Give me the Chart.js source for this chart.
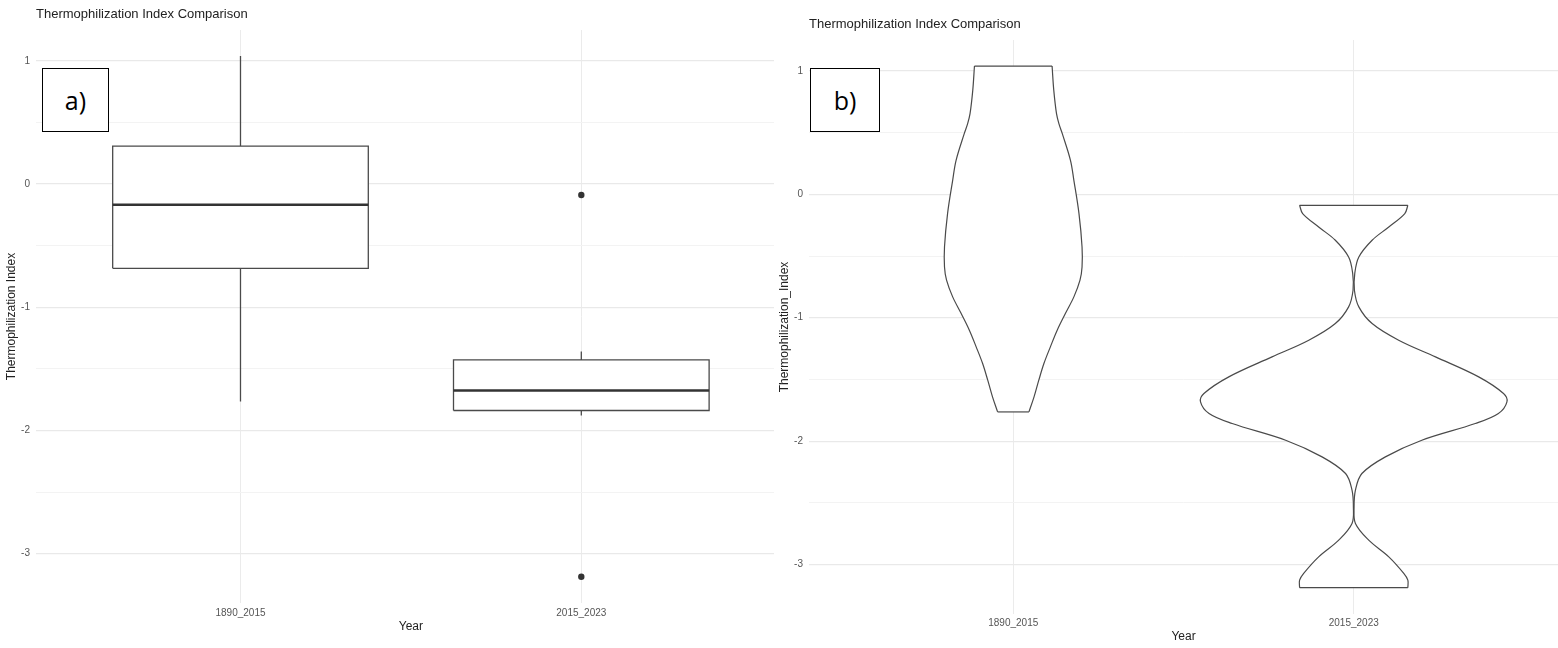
<!DOCTYPE html>
<html>
<head>
<meta charset="utf-8">
<script src="https://cdn.jsdelivr.net/npm/chart.js@4.4.1/dist/chart.umd.min.js"></script>
<style>
    body { margin: 0; background: #fff; width: 1558px; height: 648px; position: relative; overflow: hidden; }
    #wrapA { position: absolute; left: 0; top: 0; width: 774px; height: 648px; overflow: hidden; }
    #wrapB { position: absolute; left: 775px; top: 0; width: 783px; height: 648px; }
    .tag {
        position: absolute; box-sizing: border-box; border: 1.5px solid #000; background: #fff;
        display: flex; align-items: center; justify-content: center;
        font-family: 'Open Sans', sans-serif; font-size: 25px; color: #000;
    }
</style>
</head>
<body>
<div id="wrapA"><canvas id="boxChart" width="789" height="648"></canvas></div>
<div id="wrapB"><canvas id="violinChart" width="783" height="648"></canvas></div>
<div class="tag" style="left:42px;top:68px;width:67px;height:64px">a)</div>
<div class="tag" style="left:810px;top:68px;width:70px;height:64px">b)</div>
<script>
// categories and tick labels
const years = ['1890_2015', '2015_2023'];
const yTicks = [-3, -2.5, -2, -1.5, -1, -0.5, 0, 0.5, 1];

// box plot (a)
const boxLow = [-1.765, -1.879];
const boxQ1 = [-0.684, -1.838];
const boxMedian = [-0.168, -1.676];
const boxQ3 = [0.308, -1.427];
const boxHigh = [1.038, -1.36];
const outlierGroup = [2, 2];
const outlierValue = [-0.089, -3.187];

// violin outlines (b): value levels and half widths (in category units)
const violinLevels1 = [1.039, 0.842, 0.653, 0.572, 0.491, 0.275, 0.113, -0.156, -0.427, -0.589, -0.696, -0.831,
    -0.966, -1.101, -1.236, -1.371, -1.506, -1.641, -1.763];
const violinHalf1 = [0.114, 0.119, 0.127, 0.134, 0.144, 0.168, 0.178, 0.193, 0.202, 0.202, 0.196, 0.178,
    0.153, 0.129, 0.109, 0.090, 0.075, 0.061, 0.046];
const violinLevels2 = [-0.089, -0.156, -0.265, -0.372, -0.508, -0.642, -0.777, -0.912, -1.047, -1.182, -1.317, -1.479,
    -1.614, -1.682, -1.776, -1.857, -1.992, -2.127, -2.262, -2.397, -2.532, -2.667, -2.802, -2.937, -3.071, -3.126, -3.187];
const violinHalf2 = [0.159, 0.150, 0.103, 0.054, 0.015, 0.003, 0.002, 0.015, 0.054, 0.132, 0.240, 0.367,
    0.440, 0.450, 0.425, 0.357, 0.200, 0.093, 0.024, 0.005, 0.001, 0.005, 0.044, 0.103, 0.147, 0.159, 0.159];

const BOX_HALF = 0.375;
const LINE = '#4a4a4a';

Chart.defaults.font.family = "'Liberation Sans', Arial, sans-serif";
Chart.defaults.color = '#555';

function seg(points, width, color, tension) {
    return {
        data: points, showLine: true, borderColor: color || LINE, borderWidth: width,
        pointRadius: 0, pointHoverRadius: 0, tension: tension || 0, fill: false
    };
}

function makeOptions(title, yTitle, o) {
    return {
        responsive: false,
        animation: false,
        events: [],
        layout: { padding: { left: 0, right: o.padRight, top: 0, bottom: 0 } },
        plugins: {
            legend: { display: false },
            tooltip: { enabled: false },
            title: {
                display: true, text: title, align: 'start', fullSize: false, color: '#222',
                font: { size: 13, weight: 'normal' },
                padding: { top: o.titleTop, bottom: 7.4 }
            }
        },
        scales: {
            x: {
                type: 'linear', min: 0.4, max: 2.6,
                afterBuildTicks: s => { s.ticks = years.map((_, i) => ({ value: i + 1 })); },
                afterFit: s => { s.height = o.xHeight; },
                grid: { color: '#ebebeb', lineWidth: 1, drawTicks: false },
                border: { display: false },
                ticks: {
                    padding: o.xPad, color: '#555', font: { size: 10 }, autoSkip: false, maxRotation: 0,
                    callback: v => years[v - 1] || ''
                },
                title: {
                    display: true, text: 'Year', color: '#222', font: { size: 12 },
                    padding: { top: 0, bottom: o.xTitleBottom }
                }
            },
            y: {
                min: -3.4, max: 1.25,
                afterBuildTicks: s => { s.ticks = yTicks.map(v => ({ value: v })); },
                afterFit: s => { s.width = o.yWidth; },
                grid: {
                    color: c => Number.isInteger(c.tick.value) ? '#e9e9e9' : '#f3f3f3',
                    lineWidth: c => Number.isInteger(c.tick.value) ? 1.3 : 1,
                    drawTicks: false
                },
                border: { display: false },
                ticks: {
                    padding: 6, color: '#555', font: { size: 10 }, autoSkip: false,
                    callback: v => Number.isInteger(v) ? String(v) : ''
                },
                title: {
                    display: true, text: yTitle, color: '#222', font: { size: 12 },
                    padding: { top: o.yTitleTop, bottom: 0 }
                }
            }
        }
    };
}

document.addEventListener('DOMContentLoaded', function () {
    // a) box plot
    const boxSets = [];
    years.forEach((name, i) => {
        const c = i + 1;
        boxSets.push(seg([{ x: c - BOX_HALF, y: boxMedian[i] }, { x: c + BOX_HALF, y: boxMedian[i] }], 2.4, '#333'));
        const rect = seg([
            { x: c - BOX_HALF, y: boxQ1[i] }, { x: c - BOX_HALF, y: boxQ3[i] },
            { x: c + BOX_HALF, y: boxQ3[i] }, { x: c + BOX_HALF, y: boxQ1[i] },
            { x: c - BOX_HALF, y: boxQ1[i] }
        ], 1.3);
        rect.fill = 'shape';
        rect.backgroundColor = '#fff';
        boxSets.push(rect);
        boxSets.push(seg([{ x: c, y: boxQ3[i] }, { x: c, y: boxHigh[i] }], 1.3));
        boxSets.push(seg([{ x: c, y: boxQ1[i] }, { x: c, y: boxLow[i] }], 1.3));
    });
    boxSets.unshift({
        data: outlierGroup.map((g, k) => ({ x: g, y: outlierValue[k] })),
        pointRadius: 3.2, pointHoverRadius: 3.2, backgroundColor: '#333', borderWidth: 0, showLine: false
    });

    new Chart(document.getElementById('boxChart'), {
        type: 'scatter',
        data: { datasets: boxSets },
        options: makeOptions('Thermophilization Index Comparison', 'Thermophilization Index',
            { padRight: 2, titleTop: 7, xHeight: 45, xPad: 4, xTitleBottom: 13.8, yWidth: 36, yTitleTop: 4.8 })
    });

    // b) violin plot
    function violinSets(c, levels, half) {
        const left = levels.map((v, k) => ({ x: c - half[k], y: v }));
        const right = levels.map((v, k) => ({ x: c + half[k], y: v }));
        const n = levels.length - 1;
        const body = seg(left.concat(right.slice().reverse()), 0);
        body.fill = 'shape';
        body.backgroundColor = '#fff';
        return [
            seg(left, 1.2, LINE, 0.35),
            seg(right, 1.2, LINE, 0.35),
            seg([left[0], right[0]], 1.2),
            seg([left[n], right[n]], 1.2),
            body
        ];
    }
    const violinData = violinSets(1, violinLevels1, violinHalf1).concat(violinSets(2, violinLevels2, violinHalf2));

    new Chart(document.getElementById('violinChart'), {
        type: 'scatter',
        data: { datasets: violinData },
        options: makeOptions('Thermophilization Index Comparison', 'Thermophilization_Index',
            { padRight: 0, titleTop: 17, xHeight: 34, xPad: 3, xTitleBottom: 4.1, yWidth: 34, yTitleTop: 2.8 })
    });
});
</script>
</body>
</html>
